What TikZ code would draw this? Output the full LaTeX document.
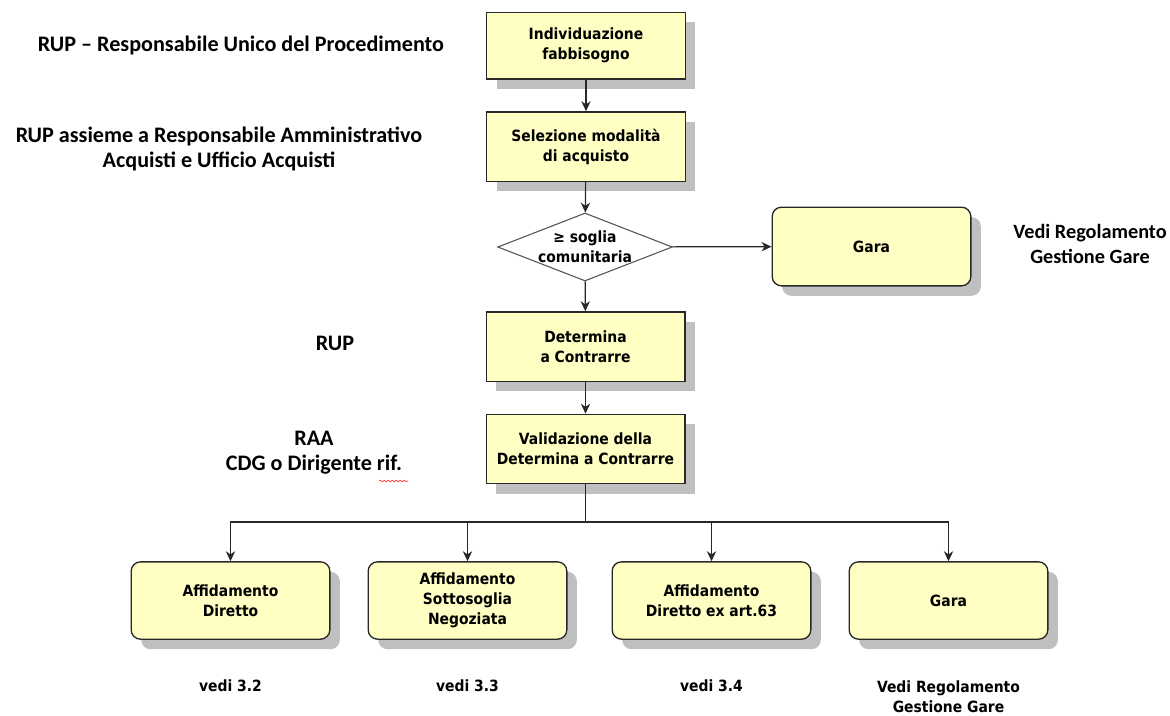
\documentclass[tikz,border=0pt]{standalone}
\usepackage{fontspec}
\setmainfont{Carlito}
\newfontfamily\boxfont{DejaVu Sans Condensed}
\usetikzlibrary{shapes.geometric,arrows.meta,shadows,decorations.pathmorphing}

\definecolor{boxyellow}{RGB}{255,255,196}
\definecolor{lineclr}{RGB}{40,40,40}

\tikzset{
  procbox/.style={draw=lineclr, line width=1pt, fill=boxyellow,
    minimum width=149pt, align=center, inner sep=2pt,
    font=\boxfont\bfseries\fontsize{11.6}{15}\selectfont,
    drop shadow={shadow xshift=7.5pt, shadow yshift=-7.5pt, fill=black!25, opacity=1}},
  roundbox/.style={procbox, rounded corners=7pt, minimum height=58pt},
  decision/.style={diamond, draw=lineclr!80, line width=0.8pt, fill=white,
    inner sep=0pt, minimum width=131pt, minimum height=51pt},
  flowtext/.style={align=center, font=\boxfont\bfseries\fontsize{11.6}{15}\selectfont},
  rolenote/.style={align=center, font=\bfseries\fontsize{16.6}{19}\selectfont},
  arrow/.style={draw=lineclr, line width=0.9pt, -{Stealth[length=7.5pt,width=7pt]}},
  link/.style={draw=lineclr, line width=0.9pt}
}

\begin{document}
\begin{tikzpicture}[x=0.75pt,y=-0.75pt]
  %% Size of the picture, in pixels of the reference.
  \useasboundingbox (0,0) rectangle (1170,715);
  %% Height of the line that splits the flow to the four outcomes.
  \def\splity{522}
  %% Height of the notes under the outcomes.
  \def\notey{686}

  %% The main column of steps.
  \node[procbox, minimum height=50pt] (fab) at (586,45.5) {Individuazione\\fabbisogno};
  \node[procbox, minimum height=52pt] (sel) at (586,146.5) {Selezione modalità\\di acquisto};
  \node[decision] (soglia) at (585,247) {};
  \node[flowtext] (sogliatext) at (soglia) {≥ soglia\\comunitaria};
  \node[roundbox, minimum height=59pt] (garaA) at (871.5,246.5) {Gara};
  \node[procbox, minimum height=52pt] (det) at (585.5,346.5) {Determina\\a Contrarre};
  \node[procbox, minimum height=52pt] (val) at (585.5,449) {Validazione della\\Determina a Contrarre};

  %% The four outcomes.
  \node[roundbox] (diretto) at (230.5,600.5) {Affidamento\\Diretto};
  \node[roundbox] (negoziata) at (467.5,600.5) {Affidamento\\Sottosoglia\\Negoziata};
  \node[roundbox] (art63) at (711.5,600.5) {Affidamento\\Diretto ex art.63};
  \node[roundbox] (garaB) at (948.5,600.5) {Gara};

  %% Who does each step.
  \node[rolenote] (rup) at (241,45) {RUP – Responsabile Unico del Procedimento};
  \node[rolenote] (rupraa) at (219,149) {RUP assieme a Responsabile Amministrativo\\Acquisti e Ufficio Acquisti};
  \node[rolenote] (rupdet) at (335,343) {RUP};
  \node[rolenote] (raa) at (314,453) {RAA\\CDG o Dirigente rif.};
  \node[rolenote, font=\bfseries\fontsize{15.2}{19}\selectfont] (regA) at (1090,244) {Vedi Regolamento\\Gestione Gare};

  %% Spell check mark under "rif."
  \draw[red!80, line width=0.5pt, decorate,
    decoration={snake, amplitude=0.6pt, segment length=3pt}] (379,481) -- (408,481);

  %% Notes under the outcomes.
  \node[flowtext] (vedi32) at (230.5,\notey) {vedi 3.2};
  \node[flowtext] (vedi33) at (467.5,\notey) {vedi 3.3};
  \node[flowtext] (vedi34) at (711.5,\notey) {vedi 3.4};
  \node[flowtext] (regB) at (948.5,697) {Vedi Regolamento\\Gestione Gare};

  %% Connectors.
  \draw[arrow] (fab) -- (sel);
  \draw[arrow] (sel) -- (soglia);
  \draw[arrow] (soglia) -- (garaA);
  \draw[arrow] (soglia) -- (det);
  \draw[arrow] (det) -- (val);

  \coordinate (split) at (585.5,\splity);
  \draw[link] (val) -- (split);
  \foreach \n in {diretto,negoziata,art63,garaB}
    \draw[arrow] (split) -| (\n.north);
\end{tikzpicture}
\end{document}
